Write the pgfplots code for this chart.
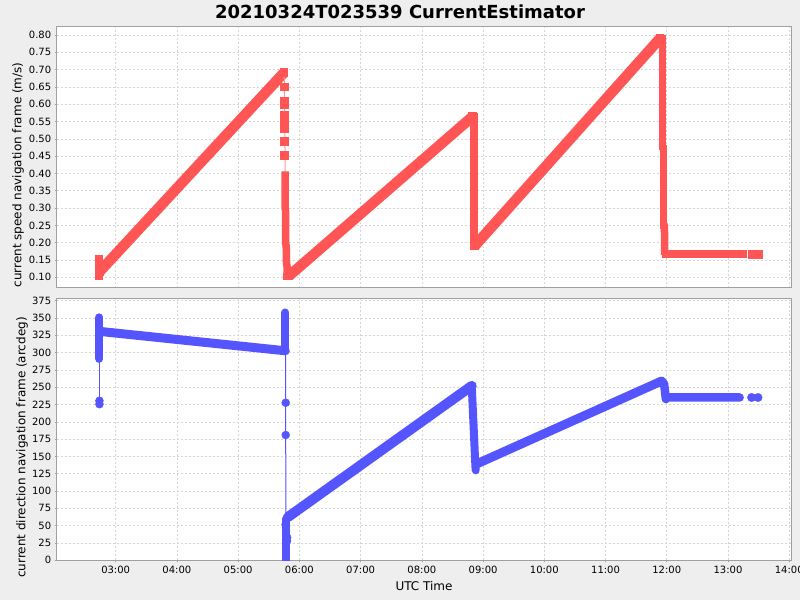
\documentclass[border=0pt]{standalone}
\usepackage{pgfplots}
\pgfplotsset{compat=1.18}
\usepackage{fontspec}
\setmainfont{DejaVu Sans}
\definecolor{bgc}{HTML}{EEEEEE}
\definecolor{sred}{HTML}{FF5555}
\definecolor{sblue}{HTML}{5555FF}
\definecolor{framec}{HTML}{A0A0A0}
\definecolor{gridc}{HTML}{D6D6D6}
\pgfplotsset{
  common/.style={
    scale only axis, width=735pt,
    xmin=2.037, xmax=14.04,
    axis background/.style={fill=white},
    axis line style={framec, line width=0.8pt},
    grid=major,
    major grid style={gridc, dash pattern=on 2pt off 2pt, line width=0.6pt},
    xtick={3,4,5,6,7,8,9,10,11,12,13,14},
    tick align=outside, tick pos=left,
    major tick length=2pt,
    tick style={framec, line width=0.6pt},
    ticklabel style={font=\fontsize{10}{12}\selectfont},
    /pgf/number format/assume math mode=true,
    clip=true,
  },
  rseg/.style={sred, line width=7.5pt, line cap=rect, line join=miter},
  rdiag/.style={sred, line width=10.5pt, line cap=butt, mark=square*, mark size=3.75pt, mark options={sred, line width=0pt}},
  bseg/.style={sblue, line width=8pt, line cap=round, line join=round},
}
\begin{document}
\begin{tikzpicture}
\fill[bgc] (0pt,0pt) rectangle (800pt,600pt);
% ---------- top: speed ----------
\begin{axis}[common,
  at={(56.7pt,312.3pt)}, anchor=south west, height=261.7pt,
  ymin=0.070, ymax=0.826,
  ytick={0.10,0.15,0.20,0.25,0.30,0.35,0.40,0.45,0.50,0.55,0.60,0.65,0.70,0.75,0.80},
  yticklabel style={/pgf/number format/.cd, fixed, fixed zerofill, precision=2},
  xticklabels={}, x tick style={draw=none},
]
\addplot[rseg] coordinates {(2.727,0.104) (2.727,0.154)};
\addplot[rdiag] coordinates {(2.74,0.117) (5.748,0.691)};
\addplot[sred!60, line width=1pt] coordinates {(5.752,0.691) (5.77,0.395)};
\addplot[only marks, mark=square*, mark size=3.75pt, sred] coordinates {
 (5.756,0.651) (5.756,0.610) (5.756,0.598) (5.756,0.570) (5.756,0.545) (5.756,0.530) (5.756,0.493) (5.756,0.453)};
\addplot[rseg] coordinates {(5.769,0.395) (5.769,0.30) (5.775,0.29) (5.775,0.20) (5.785,0.19) (5.79,0.14) (5.80,0.13) (5.80,0.104)};
\addplot[rseg] coordinates {(5.80,0.103) (5.83,0.103)};
\addplot[rdiag] coordinates {(5.83,0.104) (8.826,0.564)};
\addplot[rseg] coordinates {(8.848,0.564) (8.848,0.189)};
\addplot[rdiag] coordinates {(8.87,0.192) (11.888,0.79)};
\addplot[rseg] coordinates {(11.932,0.79) (11.932,0.48)};
\addplot[rseg] coordinates {(11.943,0.47) (11.943,0.25)};
\addplot[rseg] coordinates {(11.962,0.245) (11.965,0.175)};
\addplot[rseg] coordinates {(11.975,0.167) (13.25,0.167)};
\addplot[only marks, mark=square*, mark size=3.75pt, sred] coordinates {(13.385,0.167) (13.49,0.167)};
\end{axis}
% ---------- bottom: direction ----------
\begin{axis}[common,
  at={(56.7pt,39.7pt)}, anchor=south west, height=262pt,
  ymin=0, ymax=378.5,
  ytick={0,25,50,75,100,125,150,175,200,225,250,275,300,325,350,375},
  xticklabels={03:00,04:00,05:00,06:00,07:00,08:00,09:00,10:00,11:00,12:00,13:00,14:00},
]
\addplot[sblue, line width=1pt] coordinates {(2.735,228) (2.735,291)};
\addplot[only marks, mark=*, mark size=4pt, sblue] coordinates {(2.735,225.5) (2.735,230.5)};
\addplot[bseg] coordinates {(2.735,291) (2.735,351)};
\addplot[bseg, line width=9pt] coordinates {(2.76,330.5) (5.77,302.7)};
\addplot[bseg] coordinates {(5.773,302.7) (5.773,358)};
\addplot[sblue, line width=1pt] coordinates {(5.775,303) (5.78,0)};
\addplot[only marks, mark=*, mark size=4pt, sblue] coordinates {(5.777,227.6) (5.777,181) (5.775,52) (5.80,33) (5.798,28)};
\addplot[bseg] coordinates {(5.786,-5) (5.786,60)};
\addplot[bseg, line width=10pt] coordinates {(5.815,62.6) (8.815,252)};
\addplot[bseg] coordinates {(8.815,252) (8.855,174) (8.875,135) (8.88,130)};
\addplot[bseg, line width=9pt] coordinates {(8.89,139) (11.915,259)};
\addplot[bseg, line width=8.5pt] coordinates {(11.915,259) (11.955,255) (11.97,245) (11.985,233) (12.0,236) (12.03,235.2) (13.19,235.2)};
\addplot[only marks, mark=*, mark size=4.2pt, sblue] coordinates {(13.385,235.2) (13.49,235.2)};
\end{axis}
% ---------- texts ----------
\node[font=\bfseries\fontsize{18}{22}\selectfont, anchor=base] at (400pt,581.7pt) {20210324T023539 CurrentEstimator};
\node[font=\fontsize{12}{14}\selectfont, anchor=base] at (424pt,10pt) {UTC Time};
\node[font=\fontsize{12}{14}\selectfont, rotate=90] at (18pt,425pt) {current speed navigation frame (m/s)};
\node[font=\fontsize{12}{14}\selectfont, rotate=90] at (22pt,152.5pt) {current direction navigation frame (arcdeg)};
\pgfresetboundingbox
\useasboundingbox (0pt,0pt) rectangle (800pt,600pt);
\end{tikzpicture}
\end{document}
